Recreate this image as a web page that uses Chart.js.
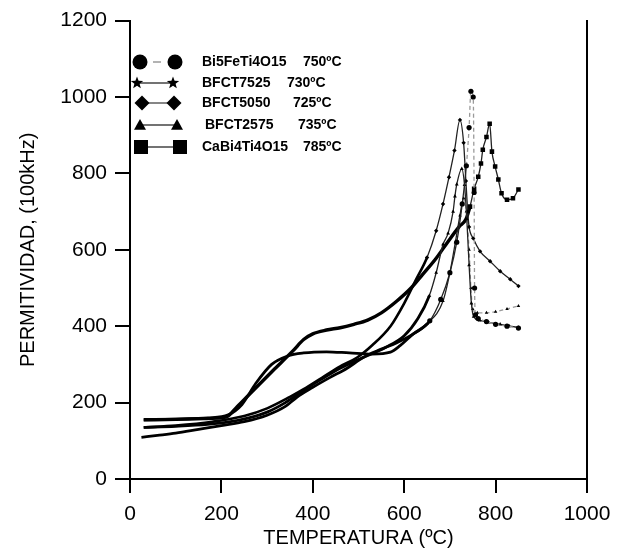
<!DOCTYPE html>
<html>
<head>
<meta charset="utf-8">
<script src="https://cdn.jsdelivr.net/npm/chart.js@4/dist/chart.umd.min.js"></script>
<style>
html,body{margin:0;padding:0;background:#fff;}
#c{display:block;}
</style>
</head>
<body>
<canvas id="c" width="624" height="550"></canvas>
<script>
// ---- Data ----
const seriesNames = ['Bi5FeTi4O15', 'BFCT7525', 'BFCT5050', 'BFCT2575', 'CaBi4Ti4O15'];
const seriesTemps = ['750ºC', '730ºC', '725ºC', '735ºC', '785ºC'];

const tempBi5 = [25, 60, 100, 150, 200, 250, 300, 340, 365, 400, 438, 475, 510, 550, 584, 620, 656, 680, 700, 715, 727, 736, 742, 746, 751, 753, 754, 756, 762, 780, 800, 825, 850];
const permBi5 = [109, 114, 120, 130, 140, 150, 167, 190, 214, 240, 266, 290, 318, 340, 357, 380, 414, 470, 540, 620, 720, 820, 920, 1015, 1000, 750, 500, 430, 420, 412, 405, 400, 395];

const temp7525 = [30, 100, 170, 220, 260, 300, 340, 380, 420, 460, 510, 560, 600, 630, 655, 670, 685, 696, 707, 711, 715, 726, 732, 737, 742, 747, 752, 765, 785, 810, 830, 850];
const perm7525 = [135, 138, 143, 150, 160, 175, 200, 232, 262, 290, 318, 345, 375, 420, 480, 540, 614, 643, 700, 740, 771, 812, 770, 680, 560, 460, 425, 415, 410, 405, 400, 397];

const temp5050 = [30, 100, 180, 250, 300, 350, 380, 420, 460, 497, 530, 570, 600, 625, 650, 670, 685, 698, 710, 722, 730, 735, 739, 742, 751, 766, 788, 810, 832, 850];
const perm5050 = [135, 140, 150, 165, 185, 215, 235, 265, 295, 318, 350, 400, 460, 520, 580, 650, 720, 790, 860, 940, 880, 780, 700, 660, 630, 596, 570, 544, 523, 505];

const temp2575 = [30, 100, 170, 215, 245, 275, 310, 345, 380, 430, 480, 530, 570, 591, 620, 650, 685, 700, 712, 722, 730, 736, 742, 746, 750, 760, 780, 800, 825, 850];
const perm2575 = [155, 157, 160, 168, 195, 250, 300, 322, 330, 333, 330, 327, 332, 349, 380, 406, 466, 540, 620, 690, 735, 700, 600, 500, 445, 435, 435, 438, 445, 453];

const tempCa = [30, 100, 160, 210, 235, 263, 313, 357, 380, 400, 430, 460, 490, 520, 550, 584, 615, 640, 670, 695, 720, 735, 744, 753, 762, 768, 772, 780, 787, 792, 799, 806, 813, 825, 838, 850];
const permCa = [155, 156, 158, 162, 190, 224, 284, 336, 365, 380, 390, 396, 405, 416, 435, 466, 500, 535, 578, 620, 660, 680, 713, 760, 791, 826, 862, 895, 930, 857, 818, 784, 748, 731, 735, 758];

const xTicks = [0, 200, 400, 600, 800, 1000];
const yTicks = [0, 200, 400, 600, 800, 1000, 1200];

// ---- Build datasets ----
const FONT = '"Liberation Sans", Arial, sans-serif';
function pts(xs, ys) { return xs.map((x, i) => ({x: x, y: ys[i]})); }

function makeDs(label, xs, ys, style, radius, peakFrom, grayFrom, lw) {
  return {
    label: label,
    data: pts(xs, ys),
    borderColor: '#000',
    backgroundColor: '#000',
    borderWidth: lw,
    pointStyle: style,
    pointRadius: c => (c.raw && c.raw.x >= peakFrom ? radius : 0),
    pointBorderWidth: 0,
    cubicInterpolationMode: 'monotone',
    segment: {
      borderColor: c => (c.p0.parsed.x >= grayFrom ? '#9a9a9a' : (c.p0.parsed.x >= peakFrom ? '#222' : '#000')),
      borderDash: c => (c.p0.parsed.x >= grayFrom ? [4, 3] : undefined),
      borderWidth: c => (c.p0.parsed.x >= peakFrom ? 1.3 : lw)
    }
  };
}

const datasets = [
  makeDs(seriesNames[0], tempBi5, permBi5, 'circle', 2.6, 656, 736, 2.8),
  makeDs(seriesNames[1], temp7525, perm7525, 'triangle', 2.2, 655, 2000, 2.8),
  makeDs(seriesNames[2], temp5050, perm5050, 'rectRot', 2.2, 650, 2000, 2.6),
  makeDs(seriesNames[3], temp2575, perm2575, 'triangle', 2.0, 650, 730, 2.8),
  makeDs(seriesNames[4], tempCa, permCa, 'rect', 3.2, 740, 2000, 3.4)
];

// ---- Legend drawn inside the plot ----
const legendRows = [
  {y: 62, m1: 140, m2: 175, tx: 202, tt: 303, shape: 'circle', size: 7.5, join: 'dash'},
  {y: 83, m1: 137, m2: 173, tx: 202, tt: 287, shape: 'star', size: 6.5, join: 'line'},
  {y: 103, m1: 142, m2: 174, tx: 202, tt: 293, shape: 'diamond', size: 7.5, join: 'line'},
  {y: 125, m1: 140, m2: 177, tx: 205, tt: 298, shape: 'triangle', size: 6, join: 'line'},
  {y: 147, m1: 141, m2: 180, tx: 202, tt: 303, shape: 'square', size: 7, join: 'line'}
];

function drawShape(ctx, shape, x, y, s) {
  ctx.beginPath();
  if (shape === 'circle') {
    ctx.arc(x, y, s, 0, Math.PI * 2);
  } else if (shape === 'square') {
    ctx.rect(x - s, y - s, 2 * s, 2 * s);
  } else if (shape === 'diamond') {
    ctx.moveTo(x, y - s); ctx.lineTo(x + s, y); ctx.lineTo(x, y + s); ctx.lineTo(x - s, y);
    ctx.closePath();
  } else if (shape === 'triangle') {
    ctx.moveTo(x, y - s); ctx.lineTo(x + s, y + s * 0.8); ctx.lineTo(x - s, y + s * 0.8);
    ctx.closePath();
  } else if (shape === 'star') {
    for (let i = 0; i < 10; i++) {
      const r = i % 2 === 0 ? s : s * 0.42;
      const a = -Math.PI / 2 + i * Math.PI / 5;
      const px = x + r * Math.cos(a), py = y + r * Math.sin(a);
      if (i === 0) ctx.moveTo(px, py); else ctx.lineTo(px, py);
    }
    ctx.closePath();
  }
  ctx.fill();
}

const legendPlugin = {
  id: 'insideLegend',
  afterDraw(chart) {
    const ctx = chart.ctx;
    ctx.save();
    legendRows.forEach((r, i) => {
      if (r.join === 'dash') {
        ctx.strokeStyle = '#9a9a9a'; ctx.lineWidth = 1.5;
        ctx.beginPath(); ctx.moveTo(153, r.y); ctx.lineTo(161, r.y); ctx.stroke();
      } else {
        ctx.strokeStyle = '#444'; ctx.lineWidth = 1.3;
        ctx.beginPath(); ctx.moveTo(r.m1, r.y); ctx.lineTo(r.m2, r.y); ctx.stroke();
      }
      ctx.fillStyle = '#000';
      drawShape(ctx, r.shape, r.m1, r.y, r.size);
      drawShape(ctx, r.shape, r.m2, r.y, r.size);
      ctx.font = 'bold 14px ' + FONT;
      ctx.textBaseline = 'middle';
      ctx.textAlign = 'left';
      ctx.fillText(chart.data.datasets[i].label, r.tx, r.y);
      ctx.fillText(seriesTemps[i], r.tt, r.y);
    });
    ctx.restore();
  }
};

new Chart(document.getElementById('c'), {
  type: 'line',
  data: {datasets: datasets},
  plugins: [legendPlugin],
  options: {
    responsive: false,
    animation: false,
    layout: {padding: {top: 18, left: 0, right: 0, bottom: 0}},
    plugins: {legend: {display: false}, tooltip: {enabled: false}},
    scales: {
      x: {
        type: 'linear', min: 0, max: 1000,
        afterBuildTicks: s => { s.ticks = xTicks.map(v => ({value: v})); },
        ticks: {color: '#000', font: {family: FONT, size: 21}, padding: 9, maxRotation: 0, callback: v => String(v)},
        grid: {drawOnChartArea: false, drawTicks: true, tickLength: 14, color: '#000', lineWidth: 2},
        border: {display: true, color: '#000', width: 2},
        title: {display: true, text: 'TEMPERATURA (ºC)', color: '#000', font: {family: FONT, size: 20}, padding: {top: 1, bottom: 0}},
        afterFit: s => { s.height = 71; }
      },
      y: {
        type: 'linear', min: 0, max: 1200,
        afterBuildTicks: s => { s.ticks = yTicks.map(v => ({value: v})); },
        ticks: {color: '#000', font: {family: FONT, size: 21}, padding: 8, callback: v => String(v)},
        grid: {drawOnChartArea: false, drawTicks: true, tickLength: 15, color: '#000', lineWidth: 2},
        border: {display: true, color: '#000', width: 2},
        title: {display: true, text: 'PERMITIVIDAD, (100kHz)', color: '#000', font: {family: FONT, size: 20}, padding: {top: 16, bottom: 0}},
        afterFit: s => { s.width = 130; }
      },
      y2: {
        type: 'linear', position: 'right', min: 0, max: 1200,
        grid: {display: false},
        ticks: {display: false},
        border: {display: true, color: '#000', width: 2},
        afterFit: s => { s.width = 37; }
      }
    }
  }
});
</script>
</body>
</html>
